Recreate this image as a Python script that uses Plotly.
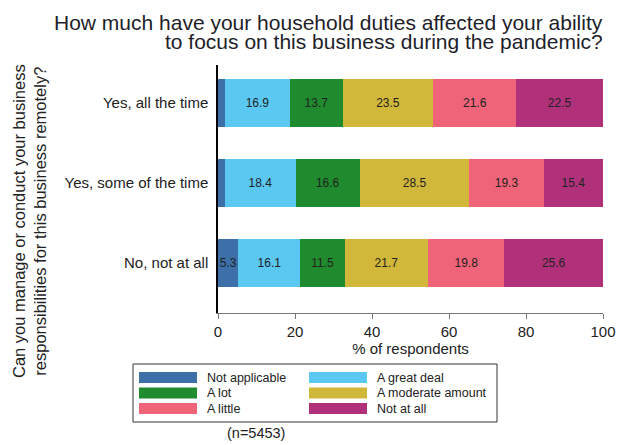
import plotly.graph_objects as go

categories = ["Yes, all the time", "Yes, some of the time", "No, not at all"]
series_names = ["Not applicable", "A great deal", "A lot", "A moderate amount", "A little", "Not at all"]
not_applicable = [1.8, 1.8, 5.3]
great_deal = [16.9, 18.4, 16.1]
a_lot = [13.7, 16.6, 11.5]
moderate = [23.5, 28.5, 21.7]
a_little = [21.6, 19.3, 19.8]
not_at_all = [22.5, 15.4, 25.6]
series_values = [not_applicable, great_deal, a_lot, moderate, a_little, not_at_all]
x_ticks = [0, 20, 40, 60, 80, 100]
colors = ["#3D6FA8", "#5BC8F2", "#1F8A2E", "#D2B83A", "#EF6478", "#B0317A"]
title_lines = ["How much have your household duties affected your ability",
               "to focus on this business during the pandemic?"]

# page is rendered with an 8px body margin; lay out in page pixels
OFF = 8
W, H = 628 - OFF, 445 - OFF
PL, PR, PT, PB = 218, 603, 65, 313  # plot area in page pixels
L, T = PL - OFF, PT - OFF
R, B = W - (PR - OFF), H - (PB - OFF)
PW, PH = PR - PL, PB - PT
FONT = "Liberation Sans, Arial, sans-serif"


def px(x):
    return (x - PL) / PW


def py(y):
    return (PB - y) / PH


fig = go.Figure()
for name, vals, col in zip(series_names, series_values, colors):
    fig.add_trace(go.Bar(
        y=categories, x=vals, name=name, orientation="h",
        marker=dict(color=col, line=dict(width=0)),
        text=[f"{v:.1f}" if v >= 3 else "" for v in vals],
        textposition="inside", insidetextanchor="middle", textangle=0,
        textfont=dict(size=12, color="#222222", family=FONT),
        constraintext="none", showlegend=False, hoverinfo="x+name",
    ))

shapes = [dict(type="rect", xref="paper", yref="paper",
               x0=px(133), x1=px(497), y0=py(364), y1=py(422),
               line=dict(color="#333333", width=1), fillcolor="white")]
annotations = []
for i, (name, col) in enumerate(zip(series_names, colors)):
    row, c = divmod(i, 2)
    sx = 139 if c == 0 else 309
    tx = 205 if c == 0 else 375
    yc = 377.5 + row * 15.5
    shapes.append(dict(type="rect", xref="paper", yref="paper",
                       x0=px(sx), x1=px(sx + 58), y0=py(yc - 5.5), y1=py(yc + 5.5),
                       line=dict(width=0), fillcolor=col))
    annotations.append(dict(xref="paper", yref="paper", x=px(tx), y=py(yc),
                            text=name, showarrow=False, xanchor="left", yanchor="middle",
                            font=dict(size=12.5, color="#222222", family=FONT)))

for line, yc in zip(title_lines, [22, 41.5]):
    annotations.append(dict(xref="paper", yref="paper", x=px(605), y=py(yc),
                            text=line, showarrow=False, xanchor="right", yanchor="middle",
                            font=dict(size=21, color="#1e1e2a", family=FONT)))
annotations.append(dict(xref="paper", yref="paper", x=px(29), y=py(221),
                        text="Can you manage or conduct your business<br>responsibilities for this business remotely?",
                        showarrow=False, textangle=-90, xanchor="center", yanchor="middle",
                        font=dict(size=16.5, color="#222222", family=FONT)))
annotations.append(dict(xref="paper", yref="paper", x=px(256), y=py(433),
                        text="(n=5453)", showarrow=False, xanchor="center", yanchor="middle",
                        font=dict(size=14.5, color="#222222", family=FONT)))

fig.update_layout(
    width=W, height=H, barmode="stack", bargap=0.4,
    margin=dict(l=L, r=R, t=T, b=B, autoexpand=False),
    paper_bgcolor="white", plot_bgcolor="white",
    font=dict(family=FONT, size=15, color="#222222"),
    xaxis=dict(range=[0, 100], tickvals=x_ticks, showgrid=False, zeroline=False,
               showline=True, linecolor="#777777", linewidth=1,
               ticks="outside", ticklen=5, tickcolor="#777777",
               tickfont=dict(size=15, color="#222222"),
               title=dict(text="% of respondents", standoff=1, font=dict(size=15))),
    yaxis=dict(categoryorder="array", categoryarray=categories,
               range=[2.625, -0.475], showgrid=False, zeroline=False,
               showline=True, linecolor="black", linewidth=1.5,
               ticks="", ticklabelstandoff=5, tickfont=dict(size=15, color="#222222")),
    shapes=shapes, annotations=annotations, showlegend=False,
)
fig.write_html("out.html")
